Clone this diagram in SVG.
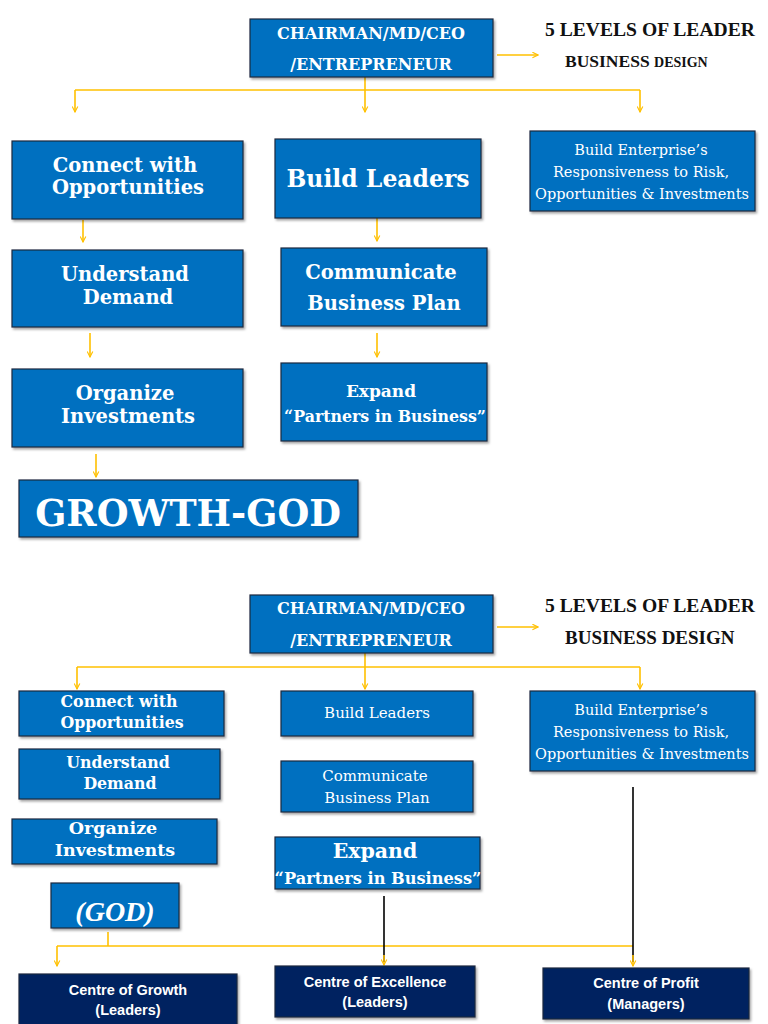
<svg xmlns="http://www.w3.org/2000/svg" width="768" height="1024" viewBox="0 0 768 1024">
<defs>
<style>
.b{fill:#0070C0;stroke:#1d2a3f;stroke-width:1.2}
.n{fill:#002060;stroke:#1d2a3f;stroke-width:1.2}
.t{font-family:"DejaVu Serif","Liberation Serif",serif;font-weight:bold;fill:#fff;text-anchor:middle}
.r{font-family:"DejaVu Serif","Liberation Serif",serif;font-weight:normal;fill:#fff;text-anchor:middle}
.g{font-family:"Liberation Serif","DejaVu Serif",serif;font-style:italic;font-weight:bold;fill:#fff;text-anchor:middle}
.s{font-family:"Liberation Sans","Noto Sans",sans-serif;font-weight:bold;fill:#fff;text-anchor:middle;font-size:14.5px}
.h{font-family:"Liberation Serif","DejaVu Serif",serif;font-weight:bold;fill:#111}
.y{stroke:#FFC000;stroke-width:1.6;fill:none}
.k{stroke:#000;stroke-width:1.6;fill:none}
</style>
<marker id="a" viewBox="0 0 10 10" refX="9" refY="5" markerWidth="7" markerHeight="7" orient="auto" markerUnits="userSpaceOnUse">
<path d="M1,1 L9,5 L1,9" fill="none" stroke="#FFC000" stroke-width="1.6"/>
</marker>
<filter id="sh" x="-5%" y="-5%" width="110%" height="115%"><feDropShadow dx="1.5" dy="2" stdDeviation="1.2" flood-color="#000" flood-opacity="0.35"/></filter>
</defs>
<rect width="768" height="1024" fill="#fff"/>

<g id="connectors">
<line class="y" x1="497" y1="55" x2="538" y2="55" marker-end="url(#a)"/>
<line class="y" x1="75" y1="90" x2="640" y2="90"/>
<line class="y" x1="75" y1="90" x2="75" y2="112" marker-end="url(#a)"/>
<line class="y" x1="365" y1="77" x2="365" y2="112" marker-end="url(#a)"/>
<line class="y" x1="640" y1="90" x2="640" y2="112" marker-end="url(#a)"/>
<line class="y" x1="83" y1="220" x2="83" y2="242" marker-end="url(#a)"/>
<line class="y" x1="90" y1="333" x2="90" y2="357" marker-end="url(#a)"/>
<line class="y" x1="96" y1="454" x2="96" y2="477" marker-end="url(#a)"/>
<line class="y" x1="377" y1="218" x2="377" y2="241" marker-end="url(#a)"/>
<line class="y" x1="377" y1="333" x2="377" y2="357" marker-end="url(#a)"/>

<line class="y" x1="497" y1="627" x2="538" y2="627" marker-end="url(#a)"/>
<line class="y" x1="77" y1="667" x2="640" y2="667"/>
<line class="y" x1="77" y1="667" x2="77" y2="689" marker-end="url(#a)"/>
<line class="y" x1="365" y1="653" x2="365" y2="689" marker-end="url(#a)"/>
<line class="y" x1="640" y1="667" x2="640" y2="689" marker-end="url(#a)"/>

<line class="y" x1="108" y1="932" x2="108" y2="946"/>
<line class="y" x1="57" y1="946" x2="633" y2="946"/>
<line class="y" x1="57" y1="946" x2="57" y2="966" marker-end="url(#a)"/>
<line class="k" x1="384" y1="896" x2="384" y2="962"/>
<line class="y" x1="384" y1="955" x2="384" y2="965" marker-end="url(#a)"/>
<line class="k" x1="633" y1="787" x2="633" y2="962"/>
<line class="y" x1="633" y1="955" x2="633" y2="966" marker-end="url(#a)"/>
</g>

<g id="top-ceo"><rect class="b" x="250" y="19" width="243" height="58" filter="url(#sh)"/>
<text class="t" x="371" y="39" font-size="16">CHAIRMAN/MD/CEO</text>
<text class="t" x="371" y="70" font-size="16">/ENTREPRENEUR</text></g>

<g id="top-title">
<text class="h" x="545" y="36" font-size="19.6">5 LEVELS OF LEADER</text>
<text class="h" x="565" y="67" font-size="17.5">BUSINESS <tspan font-size="14">DESIGN</tspan></text></g>

<g id="top-connect"><rect class="b" x="12" y="141" width="231" height="78" filter="url(#sh)"/>
<text class="t" x="125" y="172" font-size="19.5">Connect with</text>
<text class="t" x="128" y="194" font-size="19.5">Opportunities</text></g>

<g id="top-build"><rect class="b" x="275" y="139" width="206" height="79" filter="url(#sh)"/>
<text class="t" x="378" y="187" font-size="23.5">Build Leaders</text></g>

<g id="top-enterprise"><rect class="b" x="530" y="131" width="225" height="80" filter="url(#sh)"/>
<text class="r" x="641" y="155" font-size="14.5">Build Enterprise’s</text>
<text class="r" x="641" y="177" font-size="14.5">Responsiveness to Risk,</text>
<text class="r" x="642" y="199" font-size="14.5">Opportunities &amp; Investments</text></g>

<g id="top-understand"><rect class="b" x="12" y="250" width="231" height="77" filter="url(#sh)"/>
<text class="t" x="125" y="281" font-size="19.5">Understand</text>
<text class="t" x="128" y="304" font-size="19.5">Demand</text></g>

<g id="top-communicate"><rect class="b" x="281" y="248" width="206" height="78" filter="url(#sh)"/>
<text class="t" x="381" y="279" font-size="19.5">Communicate</text>
<text class="t" x="384" y="310" font-size="19.5">Business Plan</text></g>

<g id="top-organize"><rect class="b" x="12" y="369" width="231" height="78" filter="url(#sh)"/>
<text class="t" x="125" y="400" font-size="19.5">Organize</text>
<text class="t" x="128" y="423" font-size="19.5">Investments</text></g>

<g id="top-expand"><rect class="b" x="281" y="363" width="206" height="78" filter="url(#sh)"/>
<text class="t" x="381" y="397" font-size="17">Expand</text>
<text class="t" x="385" y="422" font-size="15.8">“Partners in Business”</text></g>

<g id="top-growth"><rect class="b" x="19" y="480" width="339" height="57" filter="url(#sh)"/>
<text class="t" x="188" y="526" font-size="36.5">GROWTH-GOD</text></g>

<g id="bot-ceo"><rect class="b" x="250" y="595" width="243" height="58" filter="url(#sh)"/>
<text class="t" x="371" y="614" font-size="16">CHAIRMAN/MD/CEO</text>
<text class="t" x="371" y="646" font-size="16">/ENTREPRENEUR</text></g>

<g id="bot-title">
<text class="h" x="545" y="612" font-size="19.6">5 LEVELS OF LEADER</text>
<text class="h" x="565" y="644" font-size="19">BUSINESS DESIGN</text></g>

<g id="bot-connect"><rect class="b" x="19" y="691" width="205" height="45" filter="url(#sh)"/>
<text class="t" x="119" y="707" font-size="15.8">Connect with</text>
<text class="t" x="122" y="728" font-size="15.8">Opportunities</text></g>

<g id="bot-build"><rect class="b" x="281" y="691" width="192" height="45" filter="url(#sh)"/>
<text class="r" x="377" y="718" font-size="15">Build Leaders</text></g>

<g id="bot-enterprise"><rect class="b" x="530" y="691" width="225" height="80" filter="url(#sh)"/>
<text class="r" x="641" y="715" font-size="14.5">Build Enterprise’s</text>
<text class="r" x="641" y="737" font-size="14.5">Responsiveness to Risk,</text>
<text class="r" x="642" y="759" font-size="14.5">Opportunities &amp; Investments</text></g>

<g id="bot-understand"><rect class="b" x="19" y="749" width="201" height="50" filter="url(#sh)"/>
<text class="t" x="118" y="768" font-size="15.8">Understand</text>
<text class="t" x="120" y="789" font-size="15.8">Demand</text></g>

<g id="bot-communicate"><rect class="b" x="281" y="761" width="192" height="51" filter="url(#sh)"/>
<text class="r" x="375" y="781" font-size="15">Communicate</text>
<text class="r" x="377" y="803" font-size="15">Business Plan</text></g>

<g id="bot-organize"><rect class="b" x="12" y="819" width="205" height="45" filter="url(#sh)"/>
<text class="t" x="113" y="834" font-size="17.5">Organize</text>
<text class="t" x="115" y="856" font-size="17.5">Investments</text></g>

<g id="bot-expand"><rect class="b" x="275" y="837" width="205" height="52" filter="url(#sh)"/>
<text class="t" x="375" y="858" font-size="20.5">Expand</text>
<text class="t" x="378" y="884" font-size="16.2">“Partners in Business”</text></g>

<g id="bot-god"><rect class="b" x="51" y="883" width="128" height="45" filter="url(#sh)"/>
<text class="g" x="115" y="921" font-size="28">(GOD)</text></g>

<g id="centre-growth"><rect class="n" x="19" y="974" width="218" height="55" filter="url(#sh)"/>
<text class="s" x="128" y="995">Centre of Growth</text>
<text class="s" x="128" y="1015">(Leaders)</text></g>

<g id="centre-excellence"><rect class="n" x="275" y="966" width="200" height="51" filter="url(#sh)"/>
<text class="s" x="375" y="987">Centre of Excellence</text>
<text class="s" x="375" y="1007">(Leaders)</text></g>

<g id="centre-profit"><rect class="n" x="543" y="968" width="206" height="51" filter="url(#sh)"/>
<text class="s" x="646" y="988">Centre of Profit</text>
<text class="s" x="646" y="1009">(Managers)</text></g>
</svg>
